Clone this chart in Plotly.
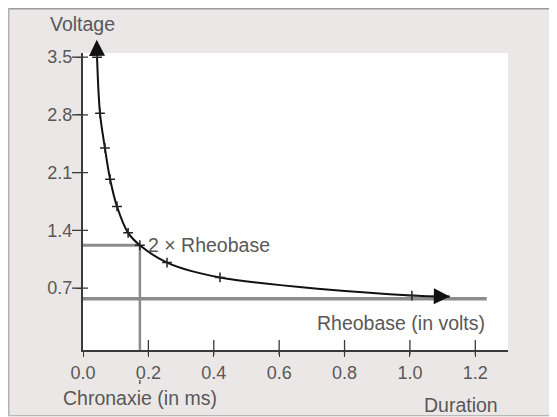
import plotly.graph_objects as go

# ---- data ----
duration = [0.043, 0.052, 0.067, 0.083, 0.104, 0.138, 0.174, 0.257, 0.419, 1.006]
voltage = [3.50, 2.82, 2.40, 2.02, 1.69, 1.37, 1.22, 1.01, 0.83, 0.61]
curve_top_tip = (0.042, 3.71)
curve_end_tip = (1.122, 0.60)

rheobase = 0.57
rheobase_line_end = 1.235
two_rheobase = 1.22
chronaxie = 0.174

x_ticks = [0.0, 0.2, 0.4, 0.6, 0.8, 1.0, 1.2]
x_tick_labels = ["0.0", "0.2", "0.4", "0.6", "0.8", "1.0", "1.2"]
y_ticks = [0.7, 1.4, 2.1, 2.8, 3.5]
y_tick_labels = ["0.7", "1.4", "2.1", "2.8", "3.5"]

FONT = "Liberation Sans, Arial, sans-serif"
TXT = "#585858"
AX = "#3a3a3a"
REF = "#8c8c8c"
BG = "#ebe7e7"
LABEL_SIZE = 19.5
TICK_SIZE = 18

OFF = 8  # page body margin
W, H = 557 - OFF, 417 - OFF
L, T = 83 - OFF, 53 - OFF
pw, ph = 425, 297
R, B = W - L - pw, H - T - ph


def px_x(p):  # reference-window pixel -> paper x
    return (p - OFF - L) / pw


def px_y(p):  # reference-window pixel -> paper y
    return (T + ph - (p - OFF)) / ph


fig = go.Figure()

# reference lines
fig.add_trace(go.Scatter(x=[0, rheobase_line_end], y=[rheobase, rheobase], mode="lines",
                         line=dict(color=REF, width=3.5), hoverinfo="skip"))
fig.add_trace(go.Scatter(x=[0, chronaxie], y=[two_rheobase, two_rheobase], mode="lines",
                         line=dict(color=REF, width=3), hoverinfo="skip"))
fig.add_trace(go.Scatter(x=[chronaxie, chronaxie], y=[two_rheobase, -0.05], mode="lines",
                         line=dict(color=REF, width=2.5), hoverinfo="skip"))

# strength-duration curve
fig.add_trace(go.Scatter(x=duration + [curve_end_tip[0]], y=voltage + [curve_end_tip[1]],
                         mode="lines", line=dict(color="#111111", width=2, shape="spline", smoothing=1.0),
                         hoverinfo="skip"))
fig.add_trace(go.Scatter(x=duration, y=voltage, mode="markers",
                         marker=dict(symbol="cross-thin", size=7, line=dict(color="#222222", width=1.5)),
                         hoverinfo="skip"))

annotations = [
    # arrowheads at both curve ends
    dict(x=curve_top_tip[0], y=curve_top_tip[1], ax=duration[0], ay=voltage[0],
         xref="x", yref="y", axref="x", ayref="y", text="", showarrow=True,
         arrowhead=2, arrowsize=1.6, arrowwidth=2, arrowcolor="#111111"),
    dict(x=curve_end_tip[0], y=curve_end_tip[1], ax=curve_end_tip[0] - 0.05, ay=curve_end_tip[1] + 0.003,
         xref="x", yref="y", axref="x", ayref="y", text="", showarrow=True,
         arrowhead=2, arrowsize=1.6, arrowwidth=2, arrowcolor="#111111"),
    dict(x=chronaxie + 0.018, y=two_rheobase, xref="x", yref="y", text="2 × Rheobase",
         showarrow=False, xanchor="left", yanchor="middle", font=dict(size=LABEL_SIZE)),
    dict(x=rheobase_line_end, y=rheobase, yshift=-24, xref="x", yref="y", text="Rheobase (in volts)",
         showarrow=False, xanchor="right", yanchor="middle", font=dict(size=LABEL_SIZE)),
    dict(x=chronaxie, y=px_y(398), xref="x", yref="paper", text="Chronaxie (in ms)",
         showarrow=False, xanchor="center", yanchor="middle", font=dict(size=LABEL_SIZE)),
    dict(x=px_x(461), y=px_y(405), xref="paper", yref="paper", text="Duration",
         showarrow=False, xanchor="center", yanchor="middle", font=dict(size=LABEL_SIZE)),
    dict(x=px_x(82), y=px_y(24), xref="paper", yref="paper", text="Voltage",
         showarrow=False, xanchor="center", yanchor="middle", font=dict(size=LABEL_SIZE)),
]

shapes = []
# frame border
shapes.append(dict(type="line", xref="paper", yref="paper", x0=px_x(8), x1=px_x(557), y0=px_y(8.7), y1=px_y(8.7),
                   line=dict(color="#9a9a9a", width=1.5)))
shapes.append(dict(type="line", xref="paper", yref="paper", x0=px_x(8.7), x1=px_x(8.7), y0=px_y(8), y1=px_y(416),
                   line=dict(color="#b0b0b0", width=1.5)))
shapes.append(dict(type="line", xref="paper", yref="paper", x0=px_x(8), x1=px_x(557), y0=px_y(415.5), y1=px_y(415.5),
                   line=dict(color="#b8b8b8", width=1)))
# crossing tick marks
for v in y_ticks:
    shapes.append(dict(type="line", xref="paper", yref="y", xsizemode="pixel", xanchor=0,
                       x0=-11, x1=5, y0=v, y1=v, line=dict(color=AX, width=1.3)))
for v in x_ticks[1:]:
    shapes.append(dict(type="line", xref="x", yref="paper", ysizemode="pixel", yanchor=0,
                       x0=v, x1=v, y0=-5, y1=10, line=dict(color=AX, width=1.3)))
# small mark below the chronaxie tick label
shapes.append(dict(type="line", xref="x", yref="paper", x0=chronaxie, x1=chronaxie,
                   y0=px_y(384), y1=px_y(380), line=dict(color=AX, width=1.2)))

fig.update_layout(
    width=W, height=H,
    margin=dict(l=L, r=R, t=T, b=B, pad=0),
    paper_bgcolor=BG, plot_bgcolor="white",
    showlegend=False,
    font=dict(family=FONT, size=LABEL_SIZE, color=TXT),
    annotations=annotations, shapes=shapes,
    xaxis=dict(range=[0, 1.30], tickvals=x_ticks, ticktext=x_tick_labels, ticks="outside", ticklen=5,
               tickwidth=1.3, tickcolor=AX, showline=True, linecolor=AX, linewidth=2, showgrid=False,
               zeroline=False, fixedrange=True, tickfont=dict(size=TICK_SIZE, color=TXT)),
    yaxis=dict(range=[-0.05, 3.55], tickvals=y_ticks, ticktext=y_tick_labels, ticks="outside", ticklen=5,
               tickwidth=1.3, tickcolor=AX, showline=True, linecolor=AX, linewidth=2, showgrid=False,
               zeroline=False, fixedrange=True, tickfont=dict(size=TICK_SIZE, color=TXT)),
)

fig.write_html("out.html", config={"displayModeBar": False})
